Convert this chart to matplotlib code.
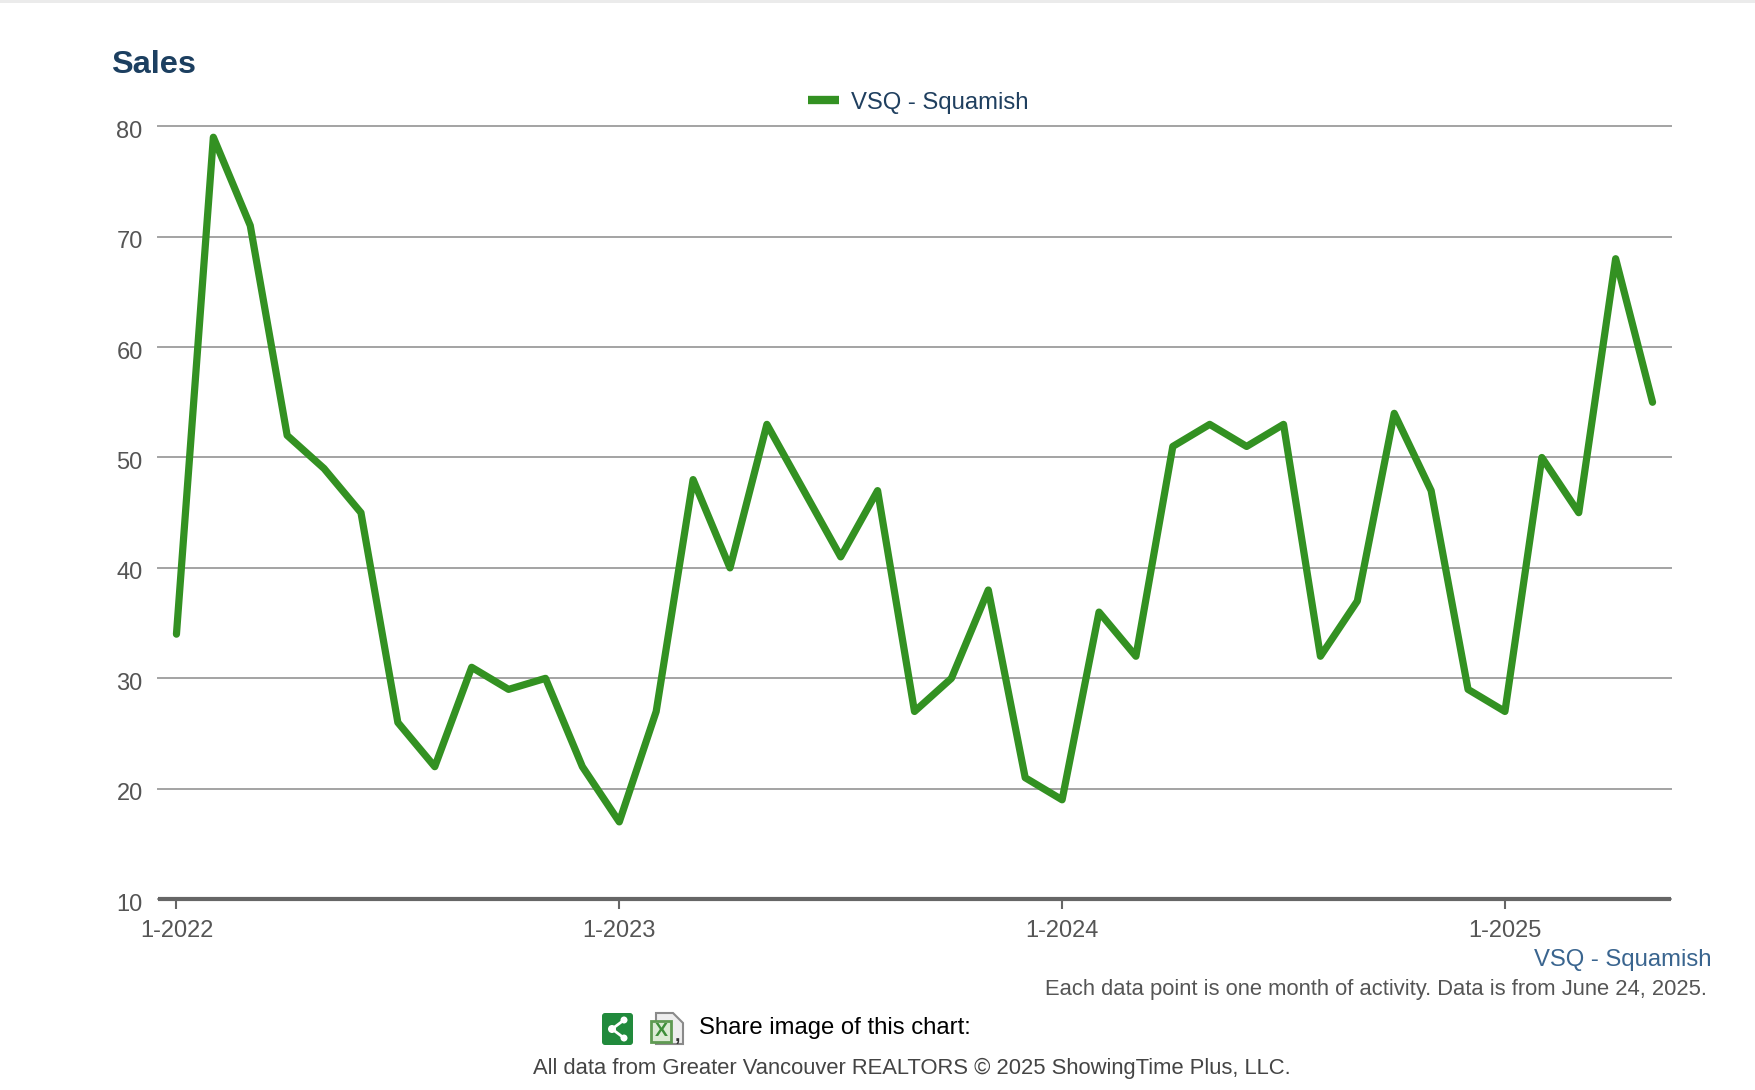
import matplotlib
matplotlib.use("Agg")
import matplotlib.pyplot as plt
from matplotlib.patches import FancyBboxPatch, Polygon, Rectangle, Circle
from matplotlib.transforms import ScaledTranslation

W, H = 1756, 1090

sales = [34, 79, 71, 52, 49, 45, 26, 22, 31, 29, 30, 22,
         17, 27, 48, 40, 53, 47, 41, 47, 27, 30, 38, 21,
         19, 36, 32, 51, 53, 51, 53, 32, 37, 54, 47, 29,
         27, 50, 45, 68, 55]
year_pos = [0, 12, 24, 36]
year_labels = ["1-2022", "1-2023", "1-2024", "1-2025"]
y_ticks = [10, 20, 30, 40, 50, 60, 70, 80]
series_name = "VSQ - Squamish"

plt.rcParams["font.family"] = ["Liberation Sans", "DejaVu Sans"]

fig = plt.figure(figsize=(W / 100, H / 100), dpi=100)
fig.patch.set_facecolor("white")

# page overlay in pixel coords, y going down
bg = fig.add_axes([0, 0, 1, 1])
bg.set_xlim(0, W)
bg.set_ylim(H, 0)
bg.axis("off")
bg.add_patch(Rectangle((0, 0), W, 2.5, color="#ebebeb", lw=0))

left, right, top, bottom = 158, 1671, 126.2, 899.2
ax = fig.add_axes([left / W, 1 - bottom / H, (right - left) / W, (bottom - top) / H])
ax.patch.set_alpha(0)
ax.plot(range(len(sales)), sales, color="#339122", lw=5.2, label=series_name,
        solid_joinstyle="round", solid_capstyle="round", zorder=3, clip_on=False)
ax.set_xlim(-0.5, 40.5)
ax.set_ylim(10, 80)
ax.set_xticks(year_pos)
ax.set_xticklabels(year_labels)
ax.set_yticks(y_ticks)
ax.grid(axis="y", color="#a3a3a3", lw=1.4, clip_on=False)
ax.set_axisbelow(True)
for s in ["top", "left", "right"]:
    ax.spines[s].set_visible(False)
ax.spines["bottom"].set_color("#666666")
ax.spines["bottom"].set_linewidth(3)
ax.spines["bottom"].set_capstyle("butt")
ax.tick_params(axis="x", length=7, width=1.5, color="#666666", labelcolor="#555555",
               labelsize=17, pad=8)
ax.tick_params(axis="y", length=0, labelcolor="#555555", labelsize=17, pad=11)
shift = ScaledTranslation(0, -3 / 100, fig.dpi_scale_trans)
for lab in ax.get_yticklabels():
    lab.set_transform(lab.get_transform() + shift)

leg = ax.legend(loc="center", bbox_to_anchor=(918 / W, 1 - 102.5 / H), bbox_transform=fig.transFigure,
                frameon=False, fontsize=17.2, handlelength=1.3, handletextpad=0.5,
                labelcolor="#1f3f5f")
leg.get_lines()[0].set_linewidth(6)
leg.get_lines()[0].set_solid_capstyle("butt")

bg.text(111, 65, "Sales", fontsize=23.4, fontweight="bold", color="#1c3f60", va="center")
bg.text(1712, 960, series_name, fontsize=17.2, color="#3a658f", ha="right", va="center")
bg.text(1707, 990, "Each data point is one month of activity. Data is from June 24, 2025.",
        fontsize=15.8, color="#555555", ha="right", va="center")
bg.text(699, 1028, "Share image of this chart:", fontsize=17.2, color="black", va="center")
bg.text(911.5, 1068, "All data from Greater Vancouver REALTORS © 2025 ShowingTime Plus, LLC.",
        fontsize=15.8, color="#444444", ha="center", va="center")

# share button
bg.add_patch(FancyBboxPatch((602, 1013), 31, 32, boxstyle="round,pad=0,rounding_size=3",
                            fc="#218a3c", ec="none"))
bg.plot([624, 612, 624], [1020, 1029, 1038], color="white", lw=2)
for cx, cy, r in [(624, 1020, 3.5), (612, 1029, 4), (624, 1038, 3.5)]:
    bg.add_patch(Circle((cx, cy), r, fc="white", ec="none"))

# excel button
bg.add_patch(Polygon([(656, 1013), (673, 1013), (683, 1023), (683, 1044), (656, 1044)],
                     fc="#eeeeee", ec="#8a8a8a", lw=1.5))
bg.add_patch(Rectangle((651, 1021), 20, 21, fc="#dcebd5", ec="#5f9a52", lw=2))
bg.text(661, 1031.5, "X", fontsize=14, fontweight="bold", color="#3f8f3a", ha="center", va="center")
bg.text(677, 1036, ",", fontsize=14, fontweight="bold", color="#333333", ha="center", va="center")

fig.savefig("out.png", dpi=100, facecolor="white")
